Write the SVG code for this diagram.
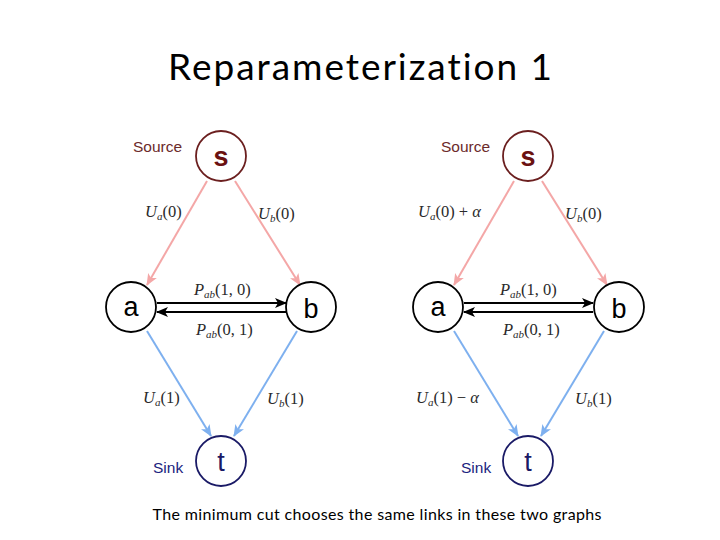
<svg xmlns="http://www.w3.org/2000/svg" width="720" height="540" viewBox="0 0 720 540">
<defs>
<style>
.title{font-family:Lato,"Open Sans","Liberation Sans",sans-serif;font-size:37px;fill:#000;font-variant-ligatures:none}
.cap{font-family:Lato,"Open Sans","Liberation Sans",sans-serif;font-size:16px;fill:#000;font-variant-ligatures:none}
.math{font-family:"Liberation Serif","DejaVu Serif",serif;font-size:16.5px;fill:#2a2a2a}
.it{font-style:italic}
.sub{font-style:italic;font-size:11px}
.node{fill:#fff;stroke-width:1.8}
.lbl{font-family:"Liberation Sans",Arial,sans-serif;font-size:27px;text-anchor:middle}
.side{font-family:"Liberation Sans",Arial,sans-serif;font-size:15.5px}
.pink{stroke:#f4a7a7;stroke-width:2;fill:none}
.blue{stroke:#7eb0ef;stroke-width:2;fill:none}
.blk{stroke:#000;stroke-width:2;fill:none}
</style>
<marker id="mp" viewBox="0 0 12 10" refX="11" refY="5" markerWidth="12" markerHeight="10" markerUnits="userSpaceOnUse" orient="auto"><path d="M0,0 L12,5 L0,10 L3,5 Z" fill="#f4a7a7"/></marker>
<marker id="mb" viewBox="0 0 12 10" refX="11" refY="5" markerWidth="12" markerHeight="10" markerUnits="userSpaceOnUse" orient="auto"><path d="M0,0 L12,5 L0,10 L3,5 Z" fill="#7eb0ef"/></marker>
<marker id="mk" viewBox="0 0 12 10" refX="11" refY="5" markerWidth="12" markerHeight="10" markerUnits="userSpaceOnUse" orient="auto"><path d="M0,0 L12,5 L0,10 L3,5 Z" fill="#000"/></marker>
</defs>
<rect width="720" height="540" fill="#fff"/>
<text class="title" x="360" y="80" text-anchor="middle" textLength="384">Reparameterization 1</text>
<text class="cap" x="377" y="520" text-anchor="middle" textLength="449">The minimum cut chooses the same links in these two graphs</text>

<g id="connectors">
<line class="pink" x1="207" y1="181" x2="147" y2="285" marker-end="url(#mp)"/>
<line class="pink" x1="235" y1="181" x2="300" y2="285" marker-end="url(#mp)"/>
<line class="blk" x1="157" y1="303" x2="286" y2="303" marker-end="url(#mk)"/>
<line class="blk" x1="286" y1="312" x2="157" y2="312" marker-end="url(#mk)"/>
<line class="blue" x1="147" y1="331" x2="211" y2="436" marker-end="url(#mb)"/>
<line class="blue" x1="297" y1="331" x2="234" y2="436" marker-end="url(#mb)"/>
<line class="pink" x1="514" y1="181" x2="454" y2="285" marker-end="url(#mp)"/>
<line class="pink" x1="542" y1="181" x2="607" y2="285" marker-end="url(#mp)"/>
<line class="blk" x1="464" y1="303" x2="593" y2="303" marker-end="url(#mk)"/>
<line class="blk" x1="593" y1="312" x2="464" y2="312" marker-end="url(#mk)"/>
<line class="blue" x1="454" y1="331" x2="518" y2="436" marker-end="url(#mb)"/>
<line class="blue" x1="604" y1="331" x2="541" y2="436" marker-end="url(#mb)"/>
</g>

<g id="edge-labels">
<text class="math" x="145" y="217"><tspan class="it">U</tspan><tspan class="sub" dy="3">a</tspan><tspan dy="-3">(0)</tspan></text>
<text class="math" x="258" y="219"><tspan class="it">U</tspan><tspan class="sub" dy="3">b</tspan><tspan dy="-3">(0)</tspan></text>
<text class="math" x="194" y="295"><tspan class="it">P</tspan><tspan class="sub" dy="3">ab</tspan><tspan dy="-3">(1, 0)</tspan></text>
<text class="math" x="196" y="335"><tspan class="it">P</tspan><tspan class="sub" dy="3">ab</tspan><tspan dy="-3">(0, 1)</tspan></text>
<text class="math" x="143" y="403"><tspan class="it">U</tspan><tspan class="sub" dy="3">a</tspan><tspan dy="-3">(1)</tspan></text>
<text class="math" x="267" y="404"><tspan class="it">U</tspan><tspan class="sub" dy="3">b</tspan><tspan dy="-3">(1)</tspan></text>

<text class="math" x="418" y="217"><tspan class="it">U</tspan><tspan class="sub" dy="3">a</tspan><tspan dy="-3">(0) + </tspan><tspan class="it">α</tspan></text>
<text class="math" x="565" y="219"><tspan class="it">U</tspan><tspan class="sub" dy="3">b</tspan><tspan dy="-3">(0)</tspan></text>
<text class="math" x="500" y="295"><tspan class="it">P</tspan><tspan class="sub" dy="3">ab</tspan><tspan dy="-3">(1, 0)</tspan></text>
<text class="math" x="503" y="335"><tspan class="it">P</tspan><tspan class="sub" dy="3">ab</tspan><tspan dy="-3">(0, 1)</tspan></text>
<text class="math" x="416" y="403"><tspan class="it">U</tspan><tspan class="sub" dy="3">a</tspan><tspan dy="-3">(1) − </tspan><tspan class="it">α</tspan></text>
<text class="math" x="575" y="404"><tspan class="it">U</tspan><tspan class="sub" dy="3">b</tspan><tspan dy="-3">(1)</tspan></text>
</g>

<g id="left-s"><circle class="node" cx="221" cy="156" r="25" stroke="#6b1f1f"/><text class="lbl" x="221" y="166" fill="#6b1111" font-weight="bold">s</text><text class="side" x="133" y="152" fill="#6b2a2a">Source</text></g>
<g id="left-a"><circle class="node" cx="131" cy="307" r="25" stroke="#000"/><text class="lbl" x="131" y="316" fill="#000">a</text></g>
<g id="left-b"><circle class="node" cx="311" cy="307" r="25" stroke="#000"/><text class="lbl" x="311" y="318" fill="#000">b</text></g>
<g id="left-t"><circle class="node" cx="221" cy="461" r="25" stroke="#1a1a66"/><text class="lbl" x="221" y="471" fill="#1a1a66">t</text><text class="side" x="153" y="473" fill="#1a237e">Sink</text></g>

<g id="right-s"><circle class="node" cx="528" cy="156" r="25" stroke="#6b1f1f"/><text class="lbl" x="528" y="166" fill="#6b1111" font-weight="bold">s</text><text class="side" x="441" y="152" fill="#6b2a2a">Source</text></g>
<g id="right-a"><circle class="node" cx="438" cy="307" r="25" stroke="#000"/><text class="lbl" x="438" y="316" fill="#000">a</text></g>
<g id="right-b"><circle class="node" cx="619" cy="307" r="25" stroke="#000"/><text class="lbl" x="619" y="318" fill="#000">b</text></g>
<g id="right-t"><circle class="node" cx="528" cy="461" r="25" stroke="#1a1a66"/><text class="lbl" x="528" y="471" fill="#1a1a66">t</text><text class="side" x="461" y="473" fill="#1a237e">Sink</text></g>
</svg>
